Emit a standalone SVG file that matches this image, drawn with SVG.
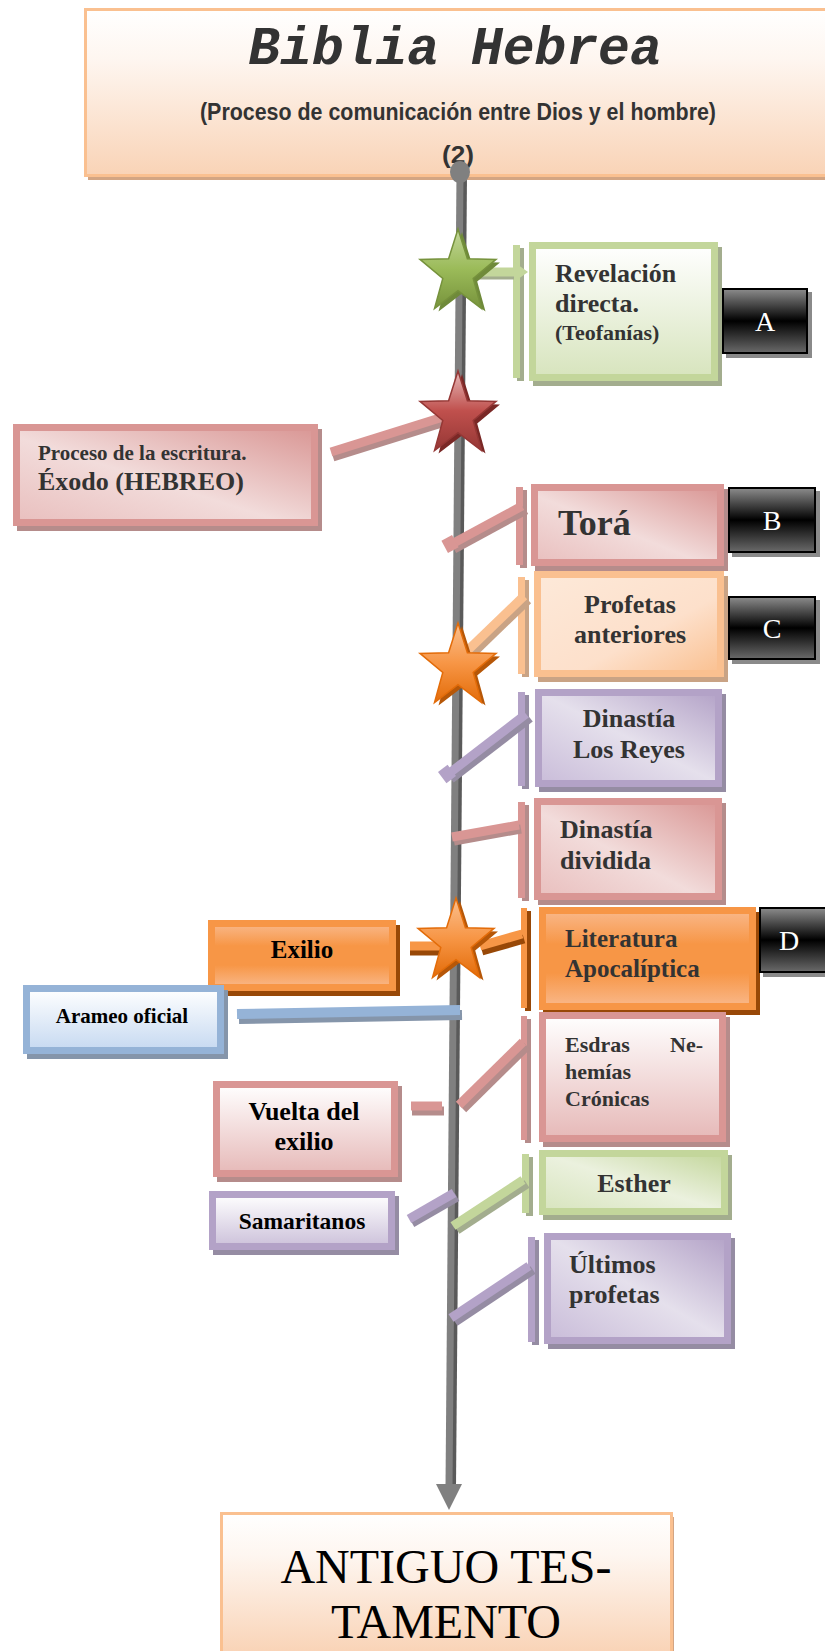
<svg xmlns="http://www.w3.org/2000/svg" width="825" height="1651" viewBox="0 0 825 1651">
<defs>
<style>
.t{font-family:"Liberation Serif","Times New Roman",serif;font-weight:bold;fill:#333}
.tk{font-family:"Liberation Serif","Times New Roman",serif;font-weight:bold;fill:#000}
.lt{font-family:"Liberation Serif","Times New Roman",serif;fill:#fff;font-size:28px;text-anchor:middle}
.c{text-anchor:middle}
.bred{stroke:#d99694;stroke-width:7}
.bgrn{stroke:#c3d69b;stroke-width:7}
.borl{stroke:#fac090;stroke-width:7}
.bpur{stroke:#b3a2c7;stroke-width:7}
.bblu{stroke:#95b3d7;stroke-width:7}
.bor{stroke:#f79646;stroke-width:7}
.sred{fill:#b58c8b}
.sgrn{fill:#a3ad8e}
.sorl{fill:#c9a385}
.spur{fill:#958ca3}
.sblu{fill:#8595aa}
.sor{fill:#984807}
.blk{fill:url(#gBlack);stroke:#000;stroke-width:2}
.sblk{fill:#8a8a8a}
.cl{fill:none;stroke-width:9;stroke-linecap:butt}
</style>
<linearGradient id="gTitle" x1="0" y1="0" x2="0" y2="1"><stop offset="0" stop-color="#fff"/><stop offset="0.3" stop-color="#fef6f0"/><stop offset="1" stop-color="#f9d3b6"/></linearGradient>
<linearGradient id="gRedD" x1="0" y1="1" x2="1" y2="0"><stop offset="0" stop-color="#e9bfbe"/><stop offset="0.45" stop-color="#f2dcdb"/><stop offset="1" stop-color="#d99694"/></linearGradient>
<linearGradient id="gRedV" x1="0" y1="0" x2="0" y2="1"><stop offset="0" stop-color="#fff"/><stop offset="1" stop-color="#e6b9b8"/></linearGradient>
<linearGradient id="gGrnV" x1="0" y1="0" x2="0" y2="1"><stop offset="0" stop-color="#fff"/><stop offset="1" stop-color="#d7e4bd"/></linearGradient>
<linearGradient id="gGrnD" x1="0" y1="1" x2="1" y2="0"><stop offset="0" stop-color="#d7e4bd"/><stop offset="0.5" stop-color="#ebf1de"/><stop offset="1" stop-color="#c3d69b"/></linearGradient>
<linearGradient id="gOrlD" x1="0" y1="0" x2="1" y2="1"><stop offset="0" stop-color="#fde9d9"/><stop offset="0.6" stop-color="#fde0cb"/><stop offset="1" stop-color="#fac090"/></linearGradient>
<linearGradient id="gPurD" x1="0" y1="1" x2="1" y2="0"><stop offset="0" stop-color="#c9bcd9"/><stop offset="0.5" stop-color="#e5e0ec"/><stop offset="1" stop-color="#b3a2c7"/></linearGradient>
<linearGradient id="gPurV" x1="0" y1="0" x2="0" y2="1"><stop offset="0" stop-color="#fff"/><stop offset="1" stop-color="#ccc1da"/></linearGradient>
<linearGradient id="gBluV" x1="0" y1="0" x2="0" y2="1"><stop offset="0" stop-color="#fff"/><stop offset="1" stop-color="#c6d9f1"/></linearGradient>
<linearGradient id="gOr" x1="0" y1="0" x2="0" y2="1"><stop offset="0" stop-color="#f9b88a"/><stop offset="0.35" stop-color="#f79646"/><stop offset="0.65" stop-color="#f79646"/><stop offset="1" stop-color="#f9b88a"/></linearGradient>
<linearGradient id="gBlack" x1="0" y1="0" x2="0" y2="1"><stop offset="0" stop-color="#8c8c8c"/><stop offset="0.5" stop-color="#000"/><stop offset="1" stop-color="#6a6a6a"/></linearGradient>
<linearGradient id="sGreen" x1="0" y1="0" x2="0" y2="1"><stop offset="0" stop-color="#c3d69b"/><stop offset="0.5" stop-color="#9bbb59"/><stop offset="1" stop-color="#77933c"/></linearGradient>
<linearGradient id="sRed" x1="0" y1="0" x2="0" y2="1"><stop offset="0" stop-color="#e6b9b8"/><stop offset="0.5" stop-color="#c0504d"/><stop offset="1" stop-color="#953735"/></linearGradient>
<linearGradient id="sOrange" x1="0" y1="0" x2="0" y2="1"><stop offset="0" stop-color="#fac090"/><stop offset="0.5" stop-color="#f79646"/><stop offset="1" stop-color="#e36c09"/></linearGradient>
<polygon id="star" points="0,-44 9.4,-14.2 38,-13.6 15.2,5.4 23.5,35.6 0,17.6 -23.5,35.6 -15.2,5.4 -38,-13.6 -9.4,-14.2"/>
</defs>

<!-- Title -->
<g id="title">
<rect x="88" y="14" width="760" height="166" fill="#d3a583"/>
<rect x="85.5" y="9.5" width="760" height="166" fill="url(#gTitle)" stroke="#fac090" stroke-width="3"/>
<text x="455" y="64" font-family="'Liberation Mono','Courier New',monospace" font-weight="bold" font-style="italic" font-size="53" fill="#333" text-anchor="middle">Biblia Hebrea</text>
<text x="458" y="120" font-family="'Liberation Sans',Arial,sans-serif" font-weight="bold" font-size="23" fill="#333" text-anchor="middle" textLength="516" lengthAdjust="spacingAndGlyphs">(Proceso de comunicación entre Dios y el hombre)</text>
<text x="458" y="163" font-family="'Liberation Sans',Arial,sans-serif" font-weight="bold" font-size="24" fill="#333" text-anchor="middle" textLength="32" lengthAdjust="spacingAndGlyphs">(2)</text>
</g>

<!-- Connectors -->
<g id="connectors">
<line x1="463" y1="176" x2="452" y2="1487" stroke="#5a5a5a" stroke-width="8"/>
<line x1="460" y1="174" x2="449" y2="1486" stroke="#808080" stroke-width="7"/>
<polygon points="436,1484 462,1484 449,1510" fill="#808080"/>
<ellipse cx="460" cy="172" rx="10" ry="11" fill="#808080"/>
<!-- Revelacion -->
<rect x="517" y="248" width="7" height="133" fill="#a3ad8e"/>
<rect x="513" y="245" width="7" height="133" fill="#c3d69b"/>
<line x1="470" y1="275" x2="516" y2="275" class="cl" stroke="#a3ad8e"/>
<line x1="470" y1="272" x2="514" y2="272" class="cl" stroke="#c3d69b"/>
<polygon points="514,262 528,272 514,282" fill="#c3d69b"/>
<!-- Proceso -->
<line x1="333" y1="457" x2="445" y2="422" class="cl" stroke="#b58c8b"/>
<line x1="331" y1="452" x2="443" y2="417" class="cl" stroke="#d99694"/>
<!-- Tora -->
<rect x="520" y="490" width="7" height="78" fill="#b58c8b"/>
<rect x="516" y="487" width="7" height="78" fill="#d99694"/>
<line x1="454" y1="549" x2="526" y2="510" class="cl" stroke="#b58c8b"/>
<line x1="450" y1="545" x2="522" y2="506" class="cl" stroke="#d99694"/>
<rect x="444" y="537" width="12" height="14" fill="#d99694" transform="rotate(-28 450 544)"/>
<!-- Profetas -->
<rect x="522" y="580" width="7" height="97" fill="#c9a385"/>
<rect x="518" y="577" width="7" height="97" fill="#fac090"/>
<line x1="471" y1="655" x2="528" y2="600" class="cl" stroke="#c9a385"/>
<line x1="467" y1="651" x2="524" y2="596" class="cl" stroke="#fac090"/>
<!-- Reyes -->
<rect x="522" y="695" width="7" height="94" fill="#958ca3"/>
<rect x="518" y="692" width="7" height="94" fill="#b3a2c7"/>
<line x1="451" y1="779" x2="530" y2="718" class="cl" stroke="#958ca3"/>
<line x1="447" y1="775" x2="526" y2="714" class="cl" stroke="#b3a2c7"/>
<rect x="441" y="767" width="12" height="14" fill="#b3a2c7" transform="rotate(-37 447 774)"/>
<!-- Dividida -->
<rect x="522" y="805" width="7" height="96" fill="#b58c8b"/>
<rect x="518" y="802" width="7" height="96" fill="#d99694"/>
<line x1="454" y1="841" x2="521" y2="829" class="cl" stroke="#b58c8b"/>
<line x1="452" y1="837" x2="519" y2="825" class="cl" stroke="#d99694"/>
<!-- Literatura -->
<rect x="525" y="911" width="6" height="100" fill="#984807"/>
<rect x="521" y="908" width="6" height="100" fill="#f79646"/>
<line x1="482" y1="951" x2="524" y2="939" class="cl" stroke="#984807"/>
<line x1="480" y1="946" x2="522" y2="934" class="cl" stroke="#f79646"/>
<!-- Exilio -->
<line x1="410" y1="951" x2="447" y2="951" class="cl" stroke="#984807"/>
<line x1="410" y1="946" x2="447" y2="946" class="cl" stroke="#f79646"/>
<!-- Arameo -->
<line x1="239" y1="1019" x2="462" y2="1015" stroke="#8595aa" stroke-width="10"/>
<line x1="237" y1="1014" x2="460" y2="1010" stroke="#95b3d7" stroke-width="10"/>
<!-- Esdras -->
<rect x="525" y="1019" width="6" height="124" fill="#b58c8b"/>
<rect x="521" y="1016" width="6" height="124" fill="#d99694"/>
<line x1="463" y1="1109" x2="527" y2="1046" class="cl" stroke="#b58c8b"/>
<line x1="459" y1="1105" x2="523" y2="1042" class="cl" stroke="#d99694"/>
<!-- Vuelta -->
<line x1="412" y1="1111" x2="444" y2="1111" class="cl" stroke="#b58c8b"/>
<line x1="411" y1="1106" x2="442" y2="1106" class="cl" stroke="#d99694"/>
<!-- Esther -->
<rect x="526" y="1157" width="7" height="59" fill="#a3ad8e"/>
<rect x="522" y="1154" width="7" height="59" fill="#c3d69b"/>
<line x1="457" y1="1230" x2="527" y2="1184" class="cl" stroke="#a3ad8e"/>
<line x1="453" y1="1226" x2="523" y2="1180" class="cl" stroke="#c3d69b"/>
<!-- Samaritanos -->
<line x1="412" y1="1223" x2="457" y2="1197" class="cl" stroke="#958ca3"/>
<line x1="409" y1="1219" x2="454" y2="1193" class="cl" stroke="#b3a2c7"/>
<!-- Ultimos -->
<rect x="532" y="1240" width="7" height="105" fill="#958ca3"/>
<rect x="528" y="1237" width="7" height="105" fill="#b3a2c7"/>
<line x1="455" y1="1322" x2="533" y2="1270" class="cl" stroke="#958ca3"/>
<line x1="451" y1="1318" x2="529" y2="1266" class="cl" stroke="#b3a2c7"/>
</g>

<!-- Stars -->
<g id="star-green"><use href="#star" transform="translate(462 276)" fill="#6f8a3a"/><use href="#star" transform="translate(458 273)" fill="url(#sGreen)" stroke="#76923c" stroke-width="1.5"/></g>
<g id="star-red"><use href="#star" transform="translate(462 418)" fill="#7a2826"/><use href="#star" transform="translate(458 415)" fill="url(#sRed)" stroke="#953735" stroke-width="1.5"/></g>
<g id="star-orange1"><use href="#star" transform="translate(462 670)" fill="#b65708"/><use href="#star" transform="translate(458 667)" fill="url(#sOrange)" stroke="#e36c09" stroke-width="1.5"/></g>
<g id="star-orange2"><use href="#star" transform="translate(460 945)" fill="#b65708"/><use href="#star" transform="translate(456 942)" fill="url(#sOrange)" stroke="#e36c09" stroke-width="1.5"/></g>

<!-- Nodes -->
<g id="revelacion">
<rect x="533" y="247" width="189" height="139" class="sgrn"/>
<rect x="532.5" y="245.5" width="182" height="132" fill="url(#gGrnV)" class="bgrn"/>
<text class="t" font-size="26" x="555" y="282">Revelación</text>
<text class="t" font-size="26" x="555" y="312">directa.</text>
<text class="t" font-size="22" x="555" y="340">(Teofanías)</text>
</g>
<g id="A"><rect x="726" y="292" width="86" height="66" class="sblk"/><rect x="723" y="289" width="84" height="64" class="blk"/><text class="lt" x="765" y="331">A</text></g>

<g id="proceso">
<rect x="17" y="429" width="305" height="102" class="sred"/>
<rect x="16.5" y="427.5" width="298" height="95" fill="url(#gRedD)" class="bred"/>
<text class="t" font-size="21" x="38" y="460">Proceso de la escritura.</text>
<text class="t" font-size="26" x="38" y="490">Éxodo (HEBREO)</text>
</g>

<g id="tora">
<rect x="535" y="489" width="193" height="82" class="sred"/>
<rect x="534.5" y="487.5" width="186" height="75" fill="url(#gRedD)" class="bred"/>
<text class="t" font-size="36" x="558" y="535">Torá</text>
</g>
<g id="B"><rect x="732" y="491" width="88" height="66" class="sblk"/><rect x="729" y="488" width="86" height="64" class="blk"/><text class="lt" x="772" y="530">B</text></g>

<g id="profetas">
<rect x="538" y="576" width="190" height="106" class="sorl"/>
<rect x="537.5" y="574.5" width="183" height="99" fill="url(#gOrlD)" class="borl"/>
<text class="t c" font-size="26" x="630" y="613">Profetas</text>
<text class="t c" font-size="26" x="630" y="643">anteriores</text>
</g>
<g id="C"><rect x="732" y="600" width="88" height="64" class="sblk"/><rect x="729" y="597" width="86" height="62" class="blk"/><text class="lt" x="772" y="638">C</text></g>

<g id="reyes">
<rect x="539" y="694" width="187" height="98" class="spur"/>
<rect x="538.5" y="692.5" width="180" height="91" fill="url(#gPurD)" class="bpur"/>
<text class="t c" font-size="26" x="629" y="727">Dinastía</text>
<text class="t c" font-size="26" x="629" y="758">Los Reyes</text>
</g>

<g id="dividida">
<rect x="538" y="803" width="188" height="102" class="sred"/>
<rect x="537.5" y="801.5" width="181" height="95" fill="url(#gRedD)" class="bred"/>
<text class="t" font-size="26" x="560" y="838">Dinastía</text>
<text class="t" font-size="26" x="560" y="869">dividida</text>
</g>

<g id="literatura">
<rect x="543" y="912" width="217" height="103" class="sor"/>
<rect x="542.5" y="910.5" width="210" height="96" fill="url(#gOr)" class="bor"/>
<text class="t" font-size="25" x="565" y="947">Literatura</text>
<text class="t" font-size="25" x="565" y="977">Apocalíptica</text>
</g>
<g id="D"><rect x="763" y="911" width="80" height="66" class="sblk"/><rect x="760" y="908" width="80" height="64" class="blk"/><text class="lt" x="789" y="950">D</text></g>

<g id="exilio">
<rect x="212" y="925" width="188" height="71" class="sor"/>
<rect x="211.5" y="923.5" width="181" height="64" fill="url(#gOr)" class="bor"/>
<text class="tk c" font-size="25" x="302" y="958">Exilio</text>
</g>

<g id="arameo">
<rect x="27" y="990" width="201" height="69" class="sblu"/>
<rect x="26.5" y="988.5" width="194" height="62" fill="url(#gBluV)" class="bblu"/>
<text class="tk c" font-size="21" x="122" y="1023">Arameo oficial</text>
</g>

<g id="esdras">
<rect x="543" y="1017" width="187" height="130" class="sred"/>
<rect x="542.5" y="1015.5" width="180" height="123" fill="url(#gRedV)" class="bred"/>
<text class="t" font-size="22" x="565" y="1052">Esdras</text>
<text class="t" font-size="22" x="703" y="1052" text-anchor="end">Ne-</text>
<text class="t" font-size="22" x="565" y="1079">hemías</text>
<text class="t" font-size="22" x="565" y="1106">Crónicas</text>
</g>

<g id="vuelta">
<rect x="217" y="1086" width="185" height="96" class="sred"/>
<rect x="216.5" y="1084.5" width="178" height="89" fill="url(#gRedV)" class="bred"/>
<text class="tk c" font-size="26" x="304" y="1120">Vuelta del</text>
<text class="tk c" font-size="26" x="304" y="1150">exilio</text>
</g>

<g id="esther">
<rect x="543" y="1155" width="189" height="65" class="sgrn"/>
<rect x="542.5" y="1153.5" width="182" height="58" fill="url(#gGrnD)" class="bgrn"/>
<text class="t c" font-size="26" x="634" y="1192">Esther</text>
</g>

<g id="samaritanos">
<rect x="213" y="1196" width="186" height="59" class="spur"/>
<rect x="212.5" y="1194.5" width="179" height="52" fill="url(#gPurV)" class="bpur"/>
<text class="tk c" font-size="23.5" x="302" y="1229">Samaritanos</text>
</g>

<g id="ultimos">
<rect x="548" y="1238" width="187" height="111" class="spur"/>
<rect x="547.5" y="1236.5" width="180" height="104" fill="url(#gPurD)" class="bpur"/>
<text class="t" font-size="26" x="569" y="1273">Últimos</text>
<text class="t" font-size="26" x="569" y="1303">profetas</text>
</g>

<g id="antiguo">
<rect x="224" y="1517" width="450" height="140" fill="#d3a583"/>
<rect x="221.5" y="1513.5" width="450" height="140" fill="url(#gTitle)" stroke="#fac090" stroke-width="3"/>
<text x="446" y="1583" font-family="'Liberation Serif','Times New Roman',serif" font-size="48" fill="#000" text-anchor="middle">ANTIGUO TES-</text>
<text x="446" y="1638" font-family="'Liberation Serif','Times New Roman',serif" font-size="48" fill="#000" text-anchor="middle">TAMENTO</text>
</g>
</svg>
